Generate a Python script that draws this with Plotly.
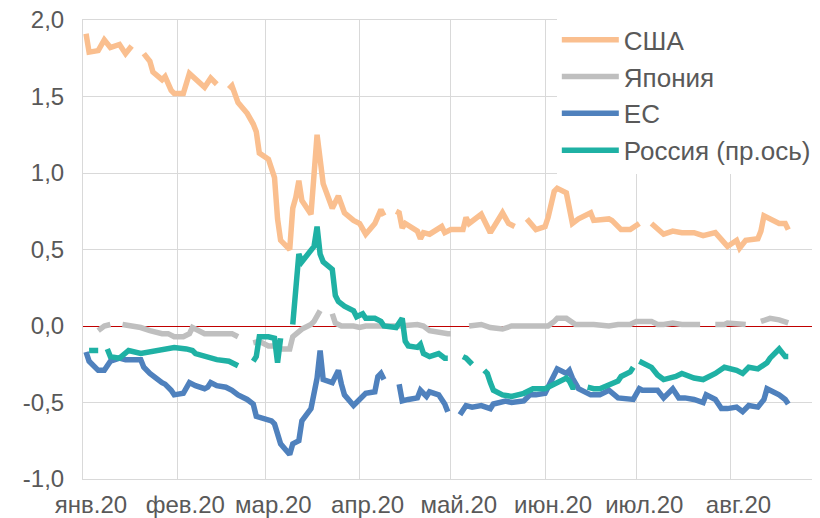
import plotly.graph_objects as go

# ---------------- data ----------------
usa_dates = ["2020-01-02","2020-01-03","2020-01-06","2020-01-08","2020-01-10","2020-01-13","2020-01-15","2020-01-17","2020-01-20",
             "2020-01-21","2020-01-23","2020-01-24","2020-01-27","2020-01-28","2020-01-30","2020-01-31","2020-02-03","2020-02-05",
             "2020-02-07","2020-02-10","2020-02-12","2020-02-14","2020-02-17","2020-02-18","2020-02-19","2020-02-21","2020-02-24",
             "2020-02-26","2020-02-27","2020-02-28","2020-03-02","2020-03-03","2020-03-04","2020-03-05","2020-03-06","2020-03-09",
             "2020-03-10","2020-03-11","2020-03-12","2020-03-13","2020-03-16","2020-03-18","2020-03-20","2020-03-23","2020-03-25",
             "2020-03-27","2020-03-30","2020-04-01","2020-04-03","2020-04-06","2020-04-08","2020-04-09","2020-04-10","2020-04-13",
             "2020-04-14","2020-04-15","2020-04-16","2020-04-20","2020-04-21","2020-04-22","2020-04-24","2020-04-28","2020-04-29",
             "2020-05-01","2020-05-05","2020-05-06","2020-05-07","2020-05-11","2020-05-14","2020-05-18","2020-05-20","2020-05-22",
             "2020-05-25","2020-05-26","2020-05-29","2020-06-01","2020-06-02","2020-06-04","2020-06-05","2020-06-08","2020-06-10",
             "2020-06-12","2020-06-16","2020-06-17","2020-06-22","2020-06-23","2020-06-26","2020-06-29","2020-07-02","2020-07-03",
             "2020-07-06","2020-07-08","2020-07-10","2020-07-13","2020-07-16","2020-07-20","2020-07-23","2020-07-27","2020-07-29",
             "2020-07-31","2020-08-03","2020-08-04","2020-08-06","2020-08-10","2020-08-11","2020-08-12","2020-08-17","2020-08-19",
             "2020-08-20"]
usa_vals = [1.91,1.79,1.80,1.87,1.82,1.84,1.78,1.83,None,
            1.78,1.73,1.66,1.61,1.63,1.54,1.52,1.52,1.65,
            1.61,1.56,1.62,1.58,None,1.55,1.57,1.46,1.39,
            1.32,1.27,1.13,1.09,1.03,0.97,0.70,0.56,0.50,
            0.77,0.84,0.95,0.82,0.73,1.25,0.93,0.77,0.85,
            0.74,0.69,0.67,0.60,0.67,0.76,0.72,None,0.75,
            0.74,0.64,0.67,0.62,0.57,0.61,0.60,0.65,0.61,
            0.63,0.63,0.71,0.67,0.73,0.61,0.74,0.67,0.65,
            None,0.70,0.63,0.65,0.71,0.88,0.90,0.87,0.67,
            0.70,0.74,0.69,0.70,0.69,0.63,0.63,0.67,None,
            0.67,0.63,0.60,0.62,0.61,0.61,0.59,0.61,0.57,
            0.52,0.56,0.51,0.56,0.57,0.62,0.72,0.67,0.67,
            0.63]

japan_dates = ["2020-01-06","2020-01-08","2020-01-10","2020-01-13","2020-01-14","2020-01-17","2020-01-20","2020-01-23","2020-01-27",
               "2020-01-29","2020-01-31","2020-02-03","2020-02-05","2020-02-06","2020-02-10","2020-02-12","2020-02-14","2020-02-17",
               "2020-02-19","2020-02-21","2020-02-24","2020-02-26","2020-02-28","2020-03-02","2020-03-04","2020-03-06","2020-03-09",
               "2020-03-10","2020-03-11","2020-03-13","2020-03-16","2020-03-17","2020-03-19","2020-03-20","2020-03-23","2020-03-24",
               "2020-03-26","2020-03-30","2020-04-01","2020-04-03","2020-04-06","2020-04-10","2020-04-14","2020-04-20","2020-04-22",
               "2020-04-24","2020-04-27","2020-04-28","2020-04-30","2020-05-01","2020-05-04","2020-05-07","2020-05-11","2020-05-14",
               "2020-05-18","2020-05-21","2020-05-26","2020-05-29","2020-06-02","2020-06-04","2020-06-05","2020-06-08","2020-06-11",
               "2020-06-15","2020-06-17","2020-06-22","2020-06-25","2020-06-29","2020-07-01","2020-07-06","2020-07-08","2020-07-10",
               "2020-07-13","2020-07-16","2020-07-20","2020-07-22","2020-07-23","2020-07-27","2020-07-30","2020-07-31","2020-08-04",
               "2020-08-06","2020-08-10","2020-08-11","2020-08-14","2020-08-17","2020-08-20"]
japan_vals = [-0.03,0.00,0.01,None,0.01,0.00,-0.01,-0.03,-0.05,
              -0.05,-0.07,-0.07,-0.05,-0.01,-0.05,-0.05,-0.05,-0.05,
              -0.05,-0.07,None,-0.11,-0.10,-0.13,-0.13,-0.15,-0.15,
              -0.07,-0.05,-0.02,0.01,0.03,0.10,None,0.08,0.02,
              0.00,0.00,-0.01,0.00,0.00,0.00,0.00,0.01,0.00,
              -0.03,-0.04,-0.05,-0.05,-0.05,None,0.00,0.01,-0.01,
              -0.02,0.00,0.00,0.00,0.00,0.03,0.05,0.05,0.01,
              0.01,0.01,0.00,0.01,0.01,0.03,0.03,0.01,0.01,
              0.02,0.01,0.01,0.01,None,0.01,0.01,0.02,0.01,
              0.01,None,0.03,0.05,0.04,0.02]

eu_dates = ["2020-01-02","2020-01-03","2020-01-06","2020-01-08","2020-01-09","2020-01-10","2020-01-13","2020-01-15","2020-01-17",
            "2020-01-20","2020-01-21","2020-01-23","2020-01-27","2020-01-28","2020-01-30","2020-01-31","2020-02-03","2020-02-05",
            "2020-02-07","2020-02-10","2020-02-11","2020-02-12","2020-02-14","2020-02-17","2020-02-19","2020-02-21","2020-02-24",
            "2020-02-26","2020-02-27","2020-03-02","2020-03-03","2020-03-04","2020-03-05","2020-03-06","2020-03-09","2020-03-10",
            "2020-03-12","2020-03-13","2020-03-16","2020-03-17","2020-03-18","2020-03-19","2020-03-20","2020-03-23","2020-03-25",
            "2020-03-26","2020-03-27","2020-03-30","2020-04-01","2020-04-03","2020-04-06","2020-04-07","2020-04-08","2020-04-09",
            "2020-04-10","2020-04-14","2020-04-15","2020-04-17","2020-04-20","2020-04-21","2020-04-23","2020-04-24","2020-04-27",
            "2020-04-29","2020-04-30","2020-05-01","2020-05-04","2020-05-05","2020-05-06","2020-05-08","2020-05-11","2020-05-14",
            "2020-05-15","2020-05-19","2020-05-21","2020-05-25","2020-05-27","2020-05-29","2020-06-01","2020-06-03","2020-06-05",
            "2020-06-08","2020-06-09","2020-06-10","2020-06-12","2020-06-16","2020-06-19","2020-06-22","2020-06-25","2020-06-30",
            "2020-07-02","2020-07-03","2020-07-08","2020-07-10","2020-07-13","2020-07-15","2020-07-17","2020-07-20","2020-07-23",
            "2020-07-24","2020-07-27","2020-07-29","2020-07-31","2020-08-03","2020-08-05","2020-08-07","2020-08-10","2020-08-12",
            "2020-08-13","2020-08-17","2020-08-19","2020-08-20"]
eu_vals = [-0.17,-0.23,-0.29,-0.29,-0.26,-0.23,-0.21,-0.22,-0.22,
           -0.22,-0.27,-0.31,-0.37,-0.38,-0.42,-0.45,-0.44,-0.37,
           -0.39,-0.41,-0.40,-0.37,-0.39,-0.40,-0.42,-0.45,-0.48,
           -0.51,-0.59,-0.61,-0.62,-0.64,-0.71,-0.77,-0.84,-0.77,
           -0.75,-0.62,-0.54,-0.45,-0.34,-0.16,-0.35,-0.37,-0.29,
           -0.38,-0.45,-0.52,-0.48,-0.44,-0.43,-0.33,-0.31,-0.35,
           None,-0.38,-0.49,-0.48,-0.47,-0.42,-0.46,-0.43,-0.45,
           -0.51,-0.56,None,-0.58,-0.55,-0.52,-0.53,-0.52,-0.54,
           -0.51,-0.49,-0.50,-0.49,-0.45,-0.45,-0.44,-0.36,-0.28,
           -0.31,-0.29,-0.34,-0.41,-0.45,-0.45,-0.42,-0.47,-0.48,
           -0.41,-0.42,-0.42,-0.47,-0.41,-0.47,-0.47,-0.48,-0.50,
           -0.45,-0.48,-0.54,-0.54,-0.53,-0.56,-0.52,-0.53,-0.48,
           -0.41,-0.45,-0.48,-0.51]

russia_dates = ["2020-01-03","2020-01-06","2020-01-08","2020-01-09","2020-01-10","2020-01-13","2020-01-16","2020-01-20","2020-01-23",
                "2020-01-27","2020-01-30","2020-01-31","2020-02-04","2020-02-06","2020-02-07","2020-02-11","2020-02-14","2020-02-18",
                "2020-02-21","2020-02-24","2020-02-26","2020-02-27","2020-02-28","2020-03-02","2020-03-04","2020-03-05","2020-03-06",
                "2020-03-09","2020-03-10","2020-03-12","2020-03-13","2020-03-16","2020-03-17","2020-03-18","2020-03-19","2020-03-20",
                "2020-03-23","2020-03-24","2020-03-25","2020-03-27","2020-03-30","2020-03-31","2020-04-02","2020-04-03","2020-04-06",
                "2020-04-08","2020-04-09","2020-04-13","2020-04-15","2020-04-16","2020-04-17","2020-04-20","2020-04-21","2020-04-22",
                "2020-04-24","2020-04-27","2020-04-29","2020-04-30","2020-05-01","2020-05-05","2020-05-06","2020-05-08","2020-05-09",
                "2020-05-12","2020-05-13","2020-05-14","2020-05-15","2020-05-18","2020-05-21","2020-05-25","2020-05-28","2020-06-01",
                "2020-06-03","2020-06-05","2020-06-08","2020-06-09","2020-06-10","2020-06-11","2020-06-12","2020-06-15","2020-06-17",
                "2020-06-19","2020-06-22","2020-06-23","2020-06-25","2020-06-26","2020-06-29","2020-06-30","2020-07-01","2020-07-02",
                "2020-07-03","2020-07-06","2020-07-08","2020-07-10","2020-07-14","2020-07-16","2020-07-20","2020-07-23","2020-07-27",
                "2020-07-30","2020-08-03","2020-08-05","2020-08-07","2020-08-10","2020-08-13","2020-08-14","2020-08-17","2020-08-19",
                "2020-08-20"]
russia_vals = [-0.16,-0.16,None,-0.15,-0.20,-0.21,-0.16,-0.18,-0.17,
               -0.15,-0.14,-0.14,-0.15,-0.16,-0.18,-0.20,-0.22,-0.23,
               -0.26,None,-0.23,-0.20,-0.07,-0.07,-0.08,-0.24,-0.08,
               None,0.01,0.47,0.42,0.49,0.52,0.65,0.47,0.42,
               0.37,0.20,0.16,0.13,0.10,0.06,0.08,0.05,0.05,
               0.03,0.00,-0.01,0.05,-0.10,-0.13,-0.14,-0.12,-0.18,
               -0.20,-0.18,-0.21,-0.21,None,-0.20,-0.21,-0.25,None,
               -0.29,-0.31,-0.37,-0.42,-0.45,-0.46,-0.44,-0.41,-0.41,
               -0.39,-0.36,-0.34,-0.36,-0.40,-0.40,None,-0.40,-0.41,
               -0.41,-0.38,-0.38,-0.36,-0.33,-0.30,-0.27,None,-0.23,
               -0.24,-0.27,-0.32,-0.35,-0.33,-0.31,-0.34,-0.35,-0.31,
               -0.27,-0.29,-0.31,-0.27,-0.28,-0.24,-0.21,-0.15,-0.20,
               -0.20]

month_starts = ["2020-01-01","2020-02-01","2020-03-01","2020-04-01","2020-05-01","2020-06-01","2020-07-01","2020-08-01"]
month_labels = ["янв.20","фев.20","мар.20","апр.20","май.20","июн.20","июл.20","авг.20"]
y_ticks = [-1.0, -0.5, 0.0, 0.5, 1.0, 1.5, 2.0]
y_labels = [f"{v:.1f}".replace(".", ",") for v in y_ticks]

# ---------------- figure ----------------
fig = go.Figure()
fig.add_trace(go.Scatter(x=usa_dates, y=usa_vals, name="США", mode="lines",
                         line=dict(color="#FABF8F", width=5.5)))
fig.add_trace(go.Scatter(x=japan_dates, y=japan_vals, name="Япония", mode="lines",
                         line=dict(color="#BFBFBF", width=5.5)))
fig.add_trace(go.Scatter(x=eu_dates, y=eu_vals, name="ЕС", mode="lines",
                         line=dict(color="#4F81BD", width=5.5)))
fig.add_trace(go.Scatter(x=russia_dates, y=russia_vals, name="Россия (пр.ось)", mode="lines",
                         line=dict(color="#1FB1A4", width=5.5), xaxis="x2", yaxis="y2"))

xrange = ["2020-01-01", "2020-09-02 01:40"]
yrange = [-1.0, 2.0]
fig.update_layout(
    width=820, height=518,
    margin=dict(l=75, r=0, t=12, b=47, autoexpand=False),
    paper_bgcolor="white", plot_bgcolor="white",
    font=dict(family="Liberation Sans, Arial, sans-serif", size=24, color="#595959"),
    showlegend=True,
    legend=dict(x=0.636, y=1.008, xanchor="left", yanchor="top", bgcolor="white",
                font=dict(size=26, color="#595959"), itemwidth=57, tracegroupgap=0),
    xaxis=dict(type="date", range=xrange, tickmode="array", tickvals=month_starts, ticktext=month_labels,
               showgrid=True, gridcolor="#D9D9D9", gridwidth=1, zeroline=False,
               showline=True, mirror=True, linecolor="#D9D9D9", linewidth=1,
               ticks="", ticklabelshift=8, ticklabelstandoff=4, tickangle=0, automargin=False,
               ticklabeloverflow="allow"),
    xaxis2=dict(type="date", overlaying="x", matches="x", range=xrange, showgrid=False,
                showticklabels=False, zeroline=False, showline=False, ticks="", automargin=False),
    yaxis=dict(range=yrange, tickmode="array", tickvals=y_ticks, ticktext=y_labels,
               showgrid=True, gridcolor="#D9D9D9", gridwidth=1,
               zeroline=True, zerolinecolor="#C00000", zerolinewidth=1,
               showline=True, linecolor="#D9D9D9", linewidth=1, ticks="", ticklabelstandoff=13,
               automargin=False, ticklabeloverflow="allow"),
    yaxis2=dict(range=yrange, overlaying="y", side="right", matches="y", visible=False, automargin=False),
    hovermode=False,
)

fig.write_html("out.html")
